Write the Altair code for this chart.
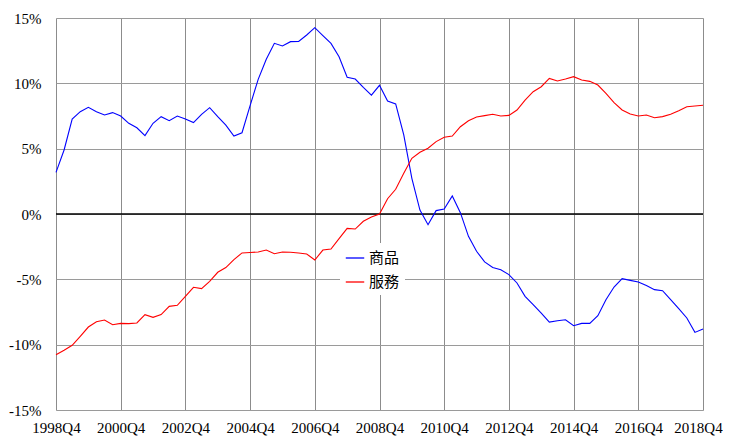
import altair as alt
import pandas as pd

years = list(range(1998, 2019))
quarters = []
for y in years:
    for q in (1, 2, 3, 4):
        s = f"{y}Q{q}"
        if "1998Q4" <= s <= "2018Q4":
            quarters.append(s)

tick_labels = ["1998Q4", "2000Q4", "2002Q4", "2004Q4", "2006Q4", "2008Q4",
               "2010Q4", "2012Q4", "2014Q4", "2016Q4", "2018Q4"]

goods = [3.19, 4.9, 7.27, 7.83, 8.16, 7.83, 7.58, 7.76, 7.5, 6.94,
         6.6, 6.0, 6.94, 7.45, 7.14, 7.5, 7.27, 7.0, 7.63, 8.14,
         7.45, 6.8, 5.97, 6.22, 8.3, 10.3, 11.84, 13.06, 12.86, 13.19,
         13.2, 13.7, 14.26, 13.65, 13.06, 12.04, 10.46, 10.33, 9.69, 9.1,
         9.85, 8.65, 8.42, 6.05, 2.73, 0.3, -0.82, 0.26, 0.38, 1.38,
         0.1, -1.71, -2.85, -3.67, -4.1, -4.26, -4.64, -5.28, -6.3, -6.94,
         -7.58, -8.27, -8.17, -8.09, -8.55, -8.37, -8.37, -7.78, -6.56, -5.59,
         -4.95, -5.08, -5.2, -5.48, -5.79, -5.87, -6.56, -7.24, -7.96, -9.06,
         -8.8]

services = [-10.77, -10.43, -10.05, -9.36, -8.65, -8.24, -8.11, -8.47, -8.37, -8.39,
            -8.34, -7.7, -7.91, -7.7, -7.07, -6.99, -6.3, -5.61, -5.71, -5.15,
            -4.46, -4.1, -3.49, -2.98, -2.95, -2.91, -2.76, -3.04, -2.91, -2.93,
            -2.98, -3.06, -3.52, -2.76, -2.68, -1.89, -1.1, -1.15, -0.56, -0.23,
            0.0, 1.17, 1.89, 3.11, 4.26, 4.72, 5.03, 5.54, 5.87, 5.97,
            6.68, 7.14, 7.42, 7.53, 7.63, 7.5, 7.55, 7.96, 8.72, 9.36,
            9.74, 10.38, 10.18, 10.33, 10.51, 10.26, 10.15, 9.87, 9.23, 8.52,
            7.96, 7.65, 7.5, 7.58, 7.37, 7.45, 7.63, 7.91, 8.21, 8.27,
            8.32]

series_names = ["商品", "服務"]
series_colors = ["#0000FF", "#FF0000"]

df = pd.concat([
    pd.DataFrame({"quarter": quarters, "value": goods, "series": series_names[0]}),
    pd.DataFrame({"quarter": quarters, "value": services, "series": series_names[1]}),
])

serif = "Liberation Serif"

x_enc = alt.X("quarter:O", sort=quarters,
              scale=alt.Scale(type="point", padding=0),
              axis=alt.Axis(values=tick_labels, labelAngle=0, title=None, ticks=False,
                            domain=False, labelPadding=10, labelFontSize=15,
                            labelFont=serif, labelColor="#000000",
                            labelOffset={"condition": {"test": "datum.label == '2018Q4'", "value": -5},
                                         "value": 0},
                            grid=True, gridColor="#8c8c8c", gridWidth=1))

y_enc = alt.Y("value:Q", scale=alt.Scale(domain=[-15, 15], nice=False),
              axis=alt.Axis(values=[-15, -10, -5, 0, 5, 10, 15], title=None, ticks=False,
                            domain=False, labelPadding=15, labelFontSize=15,
                            labelFont=serif, labelColor="#000000",
                            labelExpr="datum.value + '%'",
                            grid=True, gridColor="#9a9a9a", gridWidth=1))

lines = alt.Chart(df).mark_line(strokeWidth=1.1).encode(
    x=x_enc,
    y=y_enc,
    color=alt.Color("series:N", sort=series_names,
                    scale=alt.Scale(domain=series_names, range=series_colors),
                    legend=alt.Legend(title=None, orient="none", legendX=284, legendY=225,
                                      fillColor="white", padding=5,
                                      symbolType="stroke", symbolSize=340,
                                      symbolStrokeWidth=1.3, labelFontSize=15,
                                      labelFont="Noto Sans CJK TC", labelColor="#000000",
                                      labelOffset=4, rowPadding=6)),
)

zero = alt.Chart(pd.DataFrame({"z": [0]})).mark_rule(color="#000000", strokeWidth=1.4).encode(
    y=alt.Y("z:Q")
)

chart = alt.layer(zero, lines).properties(
    width=647, height=392,
    padding={"left": 48, "top": 10, "right": 20, "bottom": 27},
    autosize=alt.AutoSizeParams(type="none"),
).configure_view(stroke="#8c8c8c", strokeWidth=1).configure(background="white")

chart.save("out.html", embed_options={"renderer": "svg", "actions": False})
